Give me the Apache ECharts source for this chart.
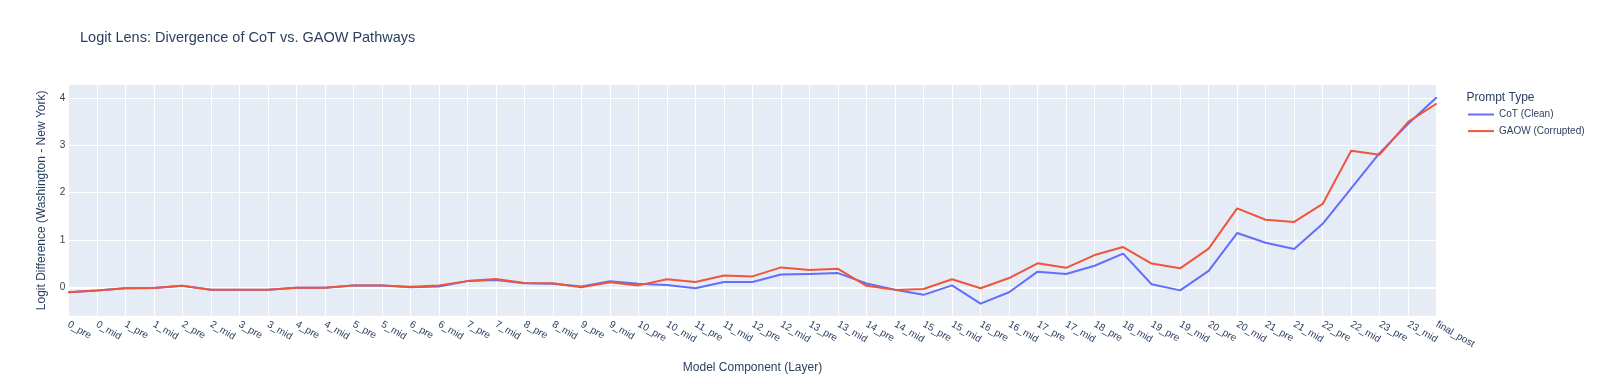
<!DOCTYPE html>
<html>
<head>
<meta charset="utf-8">
<script src="https://cdn.jsdelivr.net/npm/echarts@6/dist/echarts.min.js"></script>
<style>
  html, body { margin: 0; padding: 0; background: #fff; }
  #chart { width: 1600px; height: 384px; }
</style>
</head>
<body>
<div id="chart"></div>
<script>
const categories = [
  '0_pre','0_mid','1_pre','1_mid','2_pre','2_mid','3_pre','3_mid','4_pre','4_mid',
  '5_pre','5_mid','6_pre','6_mid','7_pre','7_mid','8_pre','8_mid','9_pre','9_mid',
  '10_pre','10_mid','11_pre','11_mid','12_pre','12_mid','13_pre','13_mid','14_pre','14_mid',
  '15_pre','15_mid','16_pre','16_mid','17_pre','17_mid','18_pre','18_mid','19_pre','19_mid',
  '20_pre','20_mid','21_pre','21_mid','22_pre','22_mid','23_pre','23_mid','final_post'
];

const cotClean = [
  -0.105, -0.07, -0.02, -0.015, 0.03, -0.05, -0.05, -0.05, -0.01, -0.01,
  0.035, 0.035, 0.0, 0.015, 0.13, 0.155, 0.085, 0.075, 0.015, 0.125,
  0.075, 0.05, -0.02, 0.11, 0.11, 0.27, 0.28, 0.30, 0.08, -0.05,
  -0.16, 0.04, -0.345, -0.105, 0.33, 0.28, 0.455, 0.71, 0.065, -0.065,
  0.345, 1.145, 0.94, 0.81, 1.34, 2.09, 2.835, 3.45, 4.01
];

const gaowCorrupted = [
  -0.105, -0.07, -0.02, -0.015, 0.03, -0.05, -0.05, -0.05, -0.01, -0.01,
  0.035, 0.035, 0.01, 0.04, 0.13, 0.175, 0.09, 0.085, 0.0, 0.105,
  0.04, 0.17, 0.11, 0.25, 0.23, 0.42, 0.365, 0.39, 0.03, -0.055,
  -0.035, 0.17, -0.02, 0.195, 0.505, 0.41, 0.68, 0.85, 0.5, 0.4,
  0.815, 1.665, 1.425, 1.38, 1.76, 2.88, 2.8, 3.49, 3.88
];

const seriesNames = ['CoT (Clean)', 'GAOW (Corrupted)'];
const yRange = [-0.6, 4.27];

const FONT = "'Liberation Sans', Arial, sans-serif";
const TXT = '#2a3f5f';

const chart = echarts.init(document.getElementById('chart'), null, { renderer: 'canvas' });

chart.setOption({
  animation: false,
  backgroundColor: '#ffffff',
  textStyle: { fontFamily: FONT, color: TXT },
  title: {
    text: 'Logit Lens: Divergence of CoT vs. GAOW Pathways',
    left: 80,
    top: 30,
    padding: 0,
    textStyle: { fontFamily: FONT, fontSize: 14.5, fontWeight: 'normal', color: TXT }
  },
  graphic: [{
    type: 'text',
    left: 1466.5,
    top: 91.5,
    style: { text: 'Prompt Type', font: "12px 'Liberation Sans', Arial, sans-serif", fill: TXT }
  }],
  legend: {
    data: seriesNames,
    orient: 'vertical',
    left: 1467,
    top: 108.5,
    padding: 0,
    itemWidth: 26,
    itemHeight: 12,
    itemGap: 4.6,
    itemStyle: { opacity: 0 },
    lineStyle: { width: 2 },
    textStyle: { fontFamily: FONT, fontSize: 10, color: TXT, lineHeight: 12 }
  },
  grid: {
    left: 68.3,
    right: 163.3,
    top: 85,
    bottom: 68.3,
    containLabel: false,
    show: true,
    backgroundColor: '#E5ECF6',
    borderWidth: 0
  },
  xAxis: {
    type: 'category',
    data: categories,
    boundaryGap: false,
    name: 'Model Component (Layer)',
    nameLocation: 'middle',
    nameGap: 46,
    nameTextStyle: { fontFamily: FONT, fontSize: 12, color: TXT },
    axisLine: { show: false },
    axisTick: { show: false },
    axisLabel: {
      interval: 0,
      rotate: -30,
      margin: 8,
      fontFamily: FONT,
      fontSize: 10,
      color: TXT
    },
    splitLine: { show: true, lineStyle: { color: '#ffffff', width: 1 } }
  },
  yAxis: {
    type: 'value',
    min: yRange[0],
    max: yRange[1],
    minInterval: 1,
    maxInterval: 1,
    name: 'Logit Difference (Washington - New York)',
    nameLocation: 'middle',
    nameRotate: 90,
    nameGap: 21,
    nameTextStyle: { fontFamily: FONT, fontSize: 12, color: TXT },
    axisLine: { show: false },
    axisTick: { show: false },
    axisLabel: {
      margin: 3,
      fontFamily: FONT,
      fontSize: 10,
      color: TXT,
      showMinLabel: false,
      showMaxLabel: false,
      formatter: function (v) { return Number.isInteger(v) ? String(v) : ''; }
    },
    splitLine: { show: true, showMinLine: false, showMaxLine: false, lineStyle: { color: '#ffffff', width: 1 } }
  },
  series: [
    {
      name: seriesNames[0],
      type: 'line',
      data: cotClean,
      symbol: 'none',
      z: 3,
      lineStyle: { color: '#636efa', width: 2, join: 'round' },
      itemStyle: { color: '#636efa' },
      markLine: {
        silent: true,
        z: 1,
        symbol: 'none',
        label: { show: false },
        lineStyle: { color: '#ffffff', width: 2, type: 'solid' },
        data: [{ yAxis: 0 }]
      }
    },
    {
      name: seriesNames[1],
      type: 'line',
      data: gaowCorrupted,
      symbol: 'none',
      z: 4,
      lineStyle: { color: '#EF553B', width: 2, join: 'round' },
      itemStyle: { color: '#EF553B' }
    }
  ]
});
</script>
</body>
</html>
